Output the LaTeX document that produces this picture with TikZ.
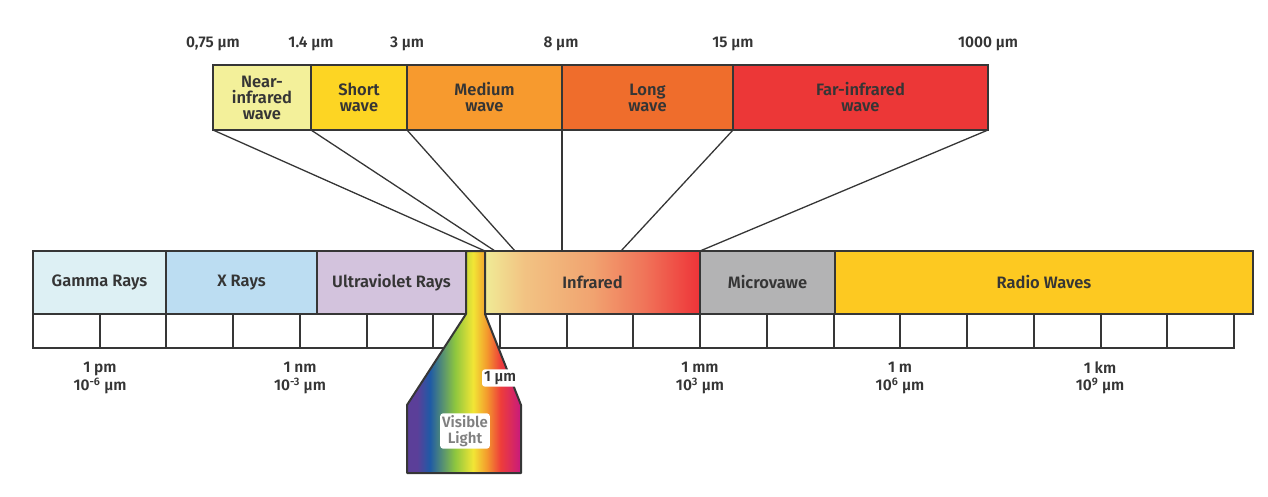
\documentclass[tikz,border=0pt]{standalone}
\usepackage{fontspec}
\setmainfont{Fira Sans}[UprightFont=* SemiBold]
\definecolor{edge}{HTML}{363636}
\definecolor{ink}{HTML}{353535}
\definecolor{gammac}{HTML}{DDF0F4}
\definecolor{xrayc}{HTML}{BCDDF2}
\definecolor{uvc}{HTML}{D3C3DD}
\definecolor{microc}{HTML}{B3B3B4}
\definecolor{radioc}{HTML}{FDC921}
\definecolor{nearc}{HTML}{F3F09A}
\definecolor{shortc}{HTML}{FDD523}
\definecolor{mediumc}{HTML}{F79A2E}
\definecolor{longc}{HTML}{EF6D2C}
\definecolor{farc}{HTML}{EC3737}
\definecolor{vpurple}{HTML}{5B3F99}
\definecolor{vblue}{HTML}{1F5AA6}
\definecolor{vgreen}{HTML}{8DC63F}
\definecolor{vyellow}{HTML}{F2E635}
\definecolor{vorange}{HTML}{F39A2D}
\definecolor{vred}{HTML}{EE3D3A}
\definecolor{vmagenta}{HTML}{C7197E}
\definecolor{irA}{HTML}{F0EB96}
\definecolor{irB}{HTML}{F2C383}
\definecolor{irC}{HTML}{F1A370}
\definecolor{irD}{HTML}{F07459}
\definecolor{irE}{HTML}{EE3338}
\pgfdeclarehorizontalshading{visible}{100bp}{color(0bp)=(vpurple); color(25bp)=(vpurple);
  color(29.5bp)=(vpurple); color(35bp)=(vblue); color(46bp)=(vgreen); color(54bp)=(vyellow);
  color(60bp)=(vorange); color(66bp)=(vred); color(75bp)=(vmagenta); color(100bp)=(vmagenta)}
\pgfdeclarehorizontalshading{irshade}{100bp}{color(0bp)=(irA); color(25bp)=(irA);
  color(34bp)=(irB); color(50bp)=(irC); color(62bp)=(irD); color(75bp)=(irE); color(100bp)=(irE)}
\tikzset{
  band/.style={draw=edge, line width=2pt, minimum height=63, inner sep=0, outer sep=0,
    text=ink, font=\fontsize{16.5}{16}\selectfont},
  wave/.style={band, minimum height=65, align=center},
  unit/.style={text=ink, align=center, font=\fontsize{15.5}{17.5}\selectfont},
  link/.style={draw=edge, line width=1.3pt},
  tag/.style={fill=white, rounded corners=3pt, inner sep=2pt, align=center,
    font=\fontsize{15}{16}\selectfont}
}
\begin{document}
\begin{tikzpicture}[x=1pt, y=-1pt]
  \useasboundingbox (0,0) rectangle (1268,497);
  % scale under the bands
  \draw[edge, line width=2pt] (33,314) rectangle (1234,348);
  \foreach \k in {1,...,17}
    \draw[edge, line width=2pt] (33+66.72*\k,314) -- ++(0,34);
  % main bands
  \node[band, fill=gammac, minimum width=133] (gamma) at (99.5,282.5) {Gamma Rays};
  \node[band, fill=xrayc, minimum width=151] (xray) at (241.5,282.5) {X Rays};
  \node[band, fill=uvc, minimum width=149] (uv) at (391.5,282.5) {Ultraviolet Rays};
  \node[band, shading=irshade, minimum width=215] (ir) at (592.5,282.5) {Infrared};
  \node[band, fill=microc, minimum width=135] (micro) at (767.5,282.5) {Microvawe};
  \node[band, fill=radioc, minimum width=418] (radio) at (1044,282.5) {Radio Waves};
  % visible light
  \shadedraw[shading=visible, draw=edge, line width=2pt, line join=round]
    (466,251) -- (485,251) -- (485,314) -- (521,405) -- (521,473)
    -- (407,473) -- (407,405) -- (466,314) -- cycle;
  \node[tag, text=ink] (one) at (500,378) {1 µm};
  \node[tag, text=gray] (vis) at (465,431) {Visible\\Light};
  % infrared sub bands
  \node[wave, fill=nearc, minimum width=98] (near) at (262,97.5) {Near-\\infrared\\wave};
  \node[wave, fill=shortc, minimum width=96] (short) at (359,97.5) {Short\\wave};
  \node[wave, fill=mediumc, minimum width=155] (medium) at (484.5,97.5) {Medium\\wave};
  \node[wave, fill=longc, minimum width=171] (long) at (647.5,97.5) {Long\\wave};
  \node[wave, fill=farc, minimum width=255] (far) at (860.5,97.5) {Far-infrared\\wave};
  \draw
    (213,44) node[unit] (l075){0,75 µm}
    (311,44) node[unit] (l14){1.4 µm}
    (407,44) node[unit] (l3){3 µm}
    (561,44) node[unit] (l8){8 µm}
    (733,44) node[unit] (l15){15 µm}
    (988,44) node[unit] (l1000){1000 µm};
  \coordinate (s1) at (495,251);
  \coordinate (s2) at (515,251);
  \coordinate (s3) at (562,251);
  \coordinate (s4) at (621,251);
  \begin{scope}[link]
    \draw (near.south west) to (ir.north west);
    \draw (short.south west) to (s1);
    \draw (medium.south west) to (s2);
    \draw (long.south west) to (s3);
    \draw (far.south west) to (s4);
    \draw (far.south east) to (ir.north east);
  \end{scope}
  % scale labels
  \draw
    (100,378) node[unit] (pm){1 pm\\10\textsuperscript{-6} µm}
    (300,378) node[unit] (nm){1 nm\\10\textsuperscript{-3} µm}
    (700,378) node[unit] (mm){1 mm\\10\textsuperscript{3} µm}
    (900,378) node[unit] (m){1 m\\10\textsuperscript{6} µm}
    (1100,378) node[unit] (km){1 km\\10\textsuperscript{9} µm};
\end{tikzpicture}
\end{document}
